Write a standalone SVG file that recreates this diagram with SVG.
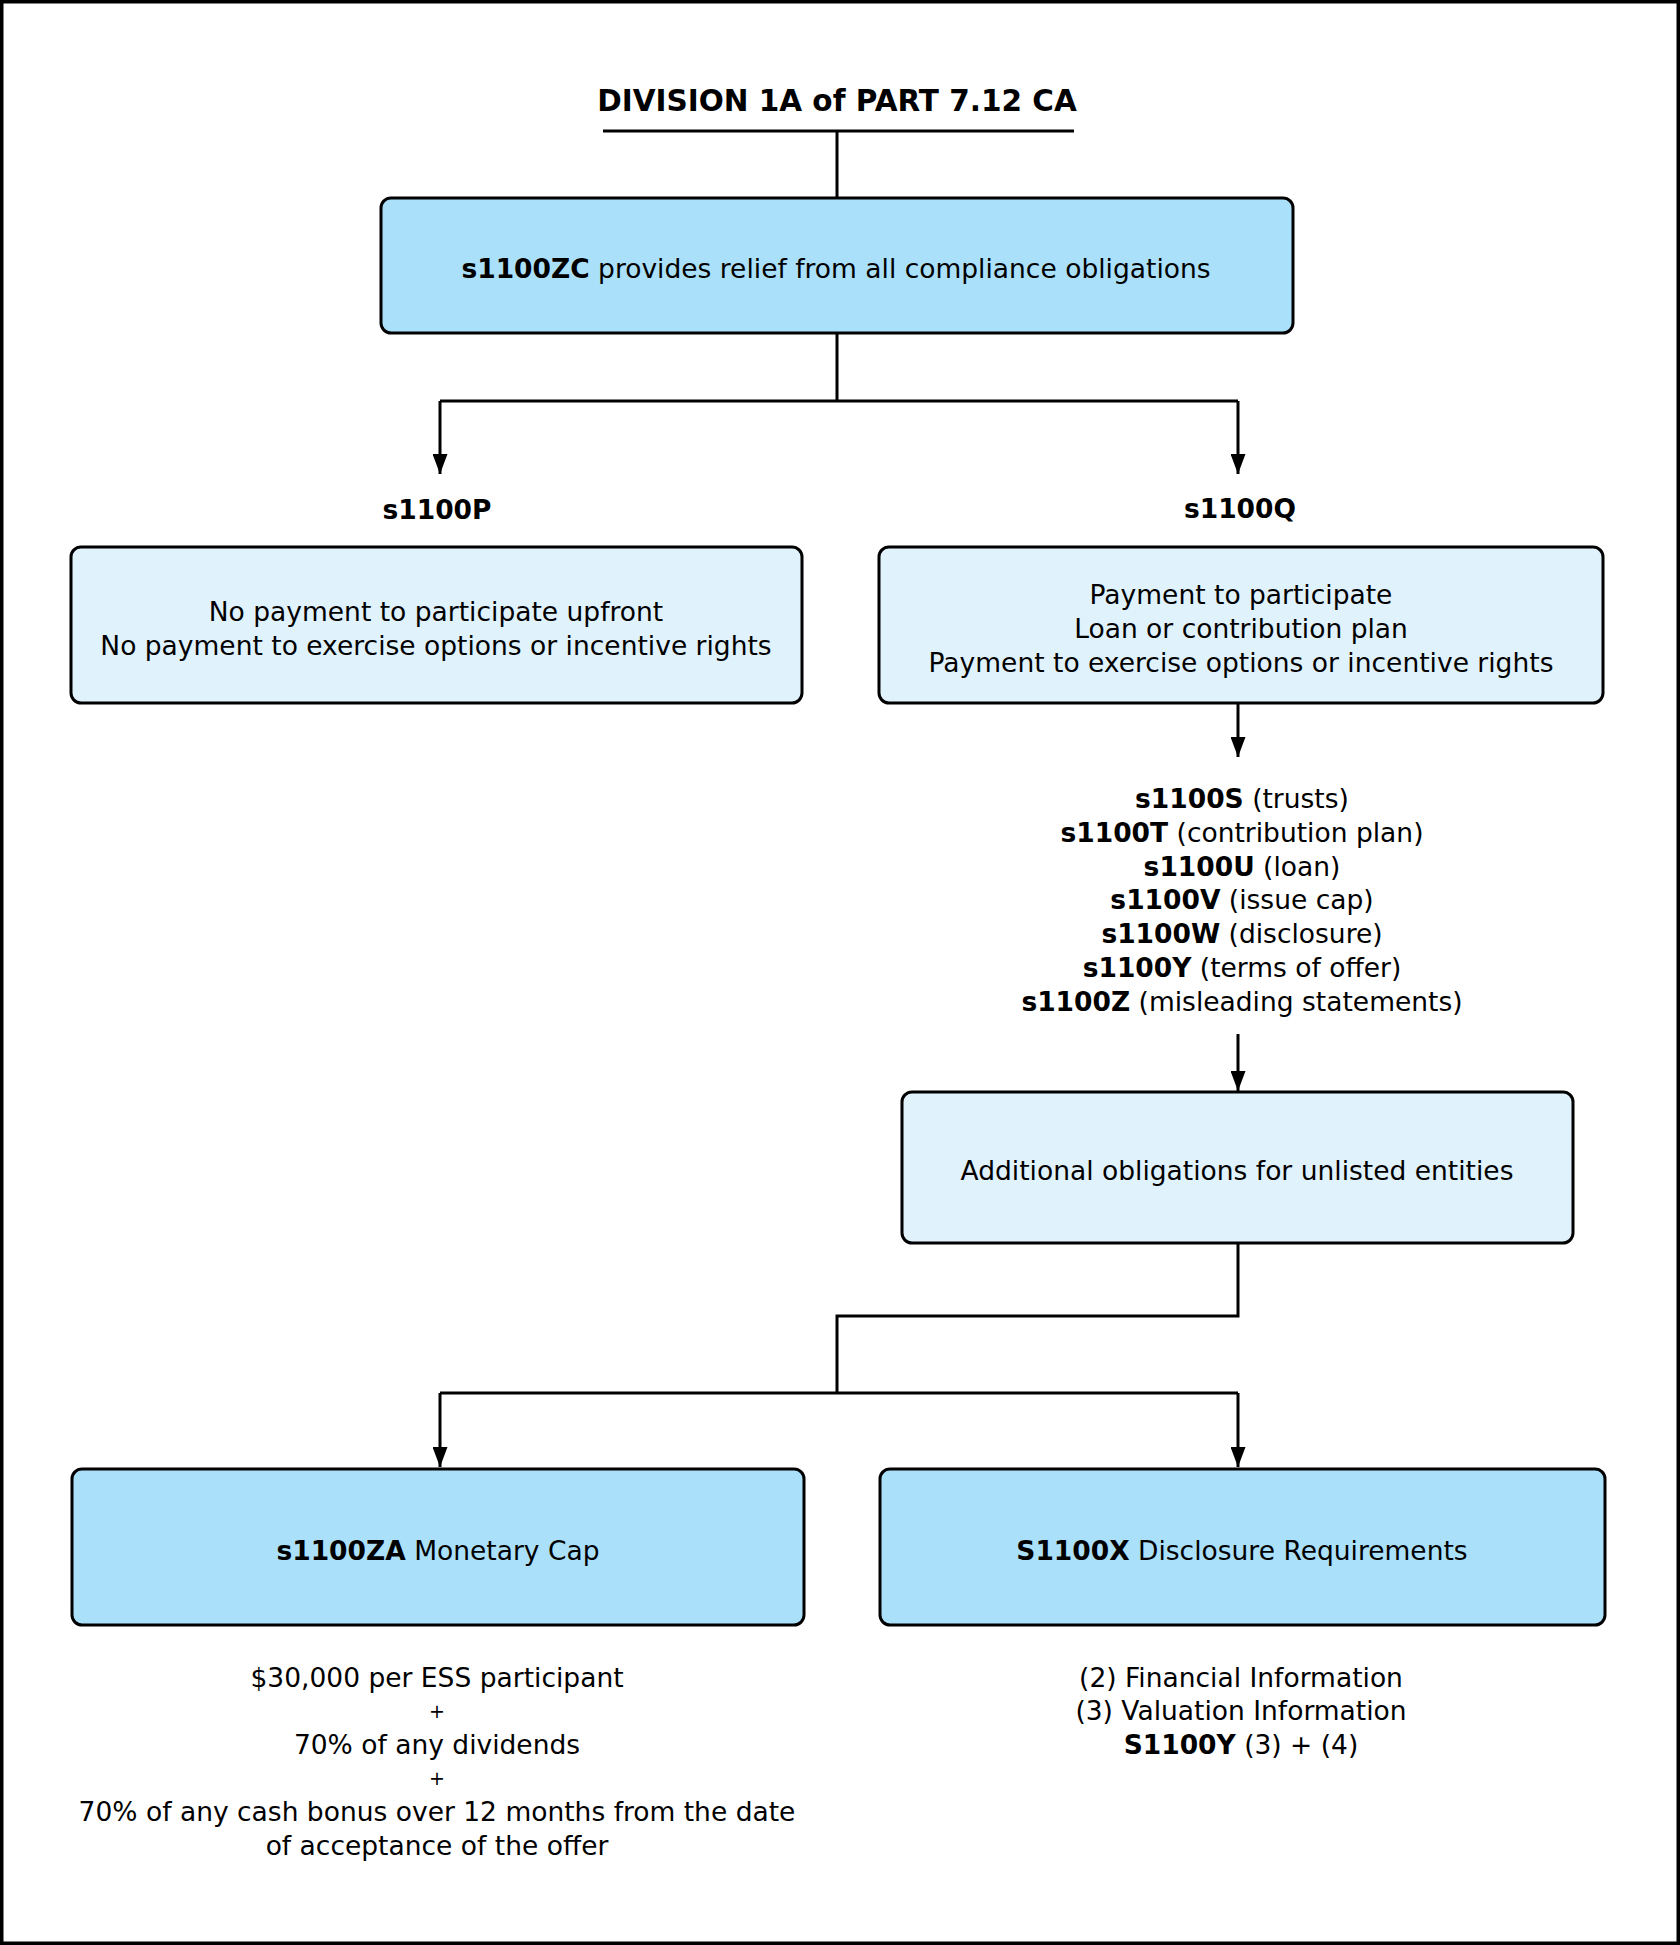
<svg xmlns="http://www.w3.org/2000/svg" width="1680" height="1945" viewBox="0 0 1680 1945">
<style>
text{font-family:"DejaVu Sans","Liberation Sans",sans-serif;font-size:26.5px;fill:#000;text-anchor:middle}
.b{font-weight:bold}
.title{font-size:29.5px;font-weight:bold}
.plus{font-size:19px}
.dark{fill:#abe0fa;stroke:#000;stroke-width:3}
.light{fill:#e0f2fc;stroke:#000;stroke-width:3}
.c{fill:none;stroke:#000;stroke-width:3}
</style>
<defs>
<marker id="ah" viewBox="0 0 20 15" refX="20" refY="7.5" markerWidth="20" markerHeight="15" markerUnits="userSpaceOnUse" orient="auto">
<path d="M0,0 L20,7.5 L0,15 z" fill="#000"/>
</marker>
</defs>
<rect x="0" y="0" width="1680" height="1945" fill="#fff"/>
<rect x="1.75" y="1.75" width="1676.5" height="1941.5" fill="none" stroke="#000" stroke-width="3.5"/>

<g id="title">
<text class="title" x="837" y="111">DIVISION 1A of PART 7.12 CA</text>
<line x1="603" y1="131" x2="1074" y2="131" stroke="#000" stroke-width="3"/>
</g>

<g id="connectors">
<path class="c" d="M837,131 V198"/>
<path class="c" d="M837,333 V401 M440,401 H1238"/>
<path class="c" d="M440,401 V474" marker-end="url(#ah)"/>
<path class="c" d="M1238,401 V474" marker-end="url(#ah)"/>
<path class="c" d="M1238,703 V757" marker-end="url(#ah)"/>
<path class="c" d="M1238,1034 V1091" marker-end="url(#ah)"/>
<path class="c" d="M1238,1243 V1316 H837 V1393 M440,1393 H1238"/>
<path class="c" d="M440,1393 V1467" marker-end="url(#ah)"/>
<path class="c" d="M1238,1393 V1467" marker-end="url(#ah)"/>
</g>

<g id="s1100ZC">
<rect class="dark" x="381" y="198" width="912" height="135" rx="10"/>
<text x="836" y="278"><tspan class="b">s1100ZC</tspan> provides relief from all compliance obligations</text>
</g>

<g id="label-s1100P"><text class="b" x="437" y="519">s1100P</text></g>
<g id="label-s1100Q"><text class="b" x="1240" y="518">s1100Q</text></g>

<g id="s1100P">
<rect class="light" x="71" y="547" width="731" height="156" rx="10"/>
<text x="436" y="621">No payment to participate upfront</text>
<text x="436" y="655">No payment to exercise options or incentive rights</text>
</g>

<g id="s1100Q">
<rect class="light" x="879" y="547" width="724" height="156" rx="10"/>
<text x="1241" y="604">Payment to participate</text>
<text x="1241" y="638">Loan or contribution plan</text>
<text x="1241" y="672">Payment to exercise options or incentive rights</text>
</g>

<g id="obligations-list">
<text x="1242" y="808"><tspan class="b">s1100S</tspan> (trusts)</text>
<text x="1242" y="842"><tspan class="b">s1100T</tspan> (contribution plan)</text>
<text x="1242" y="876"><tspan class="b">s1100U</tspan> (loan)</text>
<text x="1242" y="909"><tspan class="b">s1100V</tspan> (issue cap)</text>
<text x="1242" y="943"><tspan class="b">s1100W</tspan> (disclosure)</text>
<text x="1242" y="977"><tspan class="b">s1100Y</tspan> (terms of offer)</text>
<text x="1242" y="1011"><tspan class="b">s1100Z</tspan> (misleading statements)</text>
</g>

<g id="unlisted">
<rect class="light" x="902" y="1092" width="671" height="151" rx="10"/>
<text x="1237" y="1180">Additional obligations for unlisted entities</text>
</g>

<g id="s1100ZA">
<rect class="dark" x="72" y="1469" width="732" height="156" rx="10"/>
<text x="438" y="1560"><tspan class="b">s1100ZA</tspan> Monetary Cap</text>
</g>

<g id="S1100X">
<rect class="dark" x="880" y="1469" width="725" height="156" rx="10"/>
<text x="1242" y="1560"><tspan class="b">S1100X</tspan> Disclosure Requirements</text>
</g>

<g id="monetary-cap-details">
<text x="437" y="1687">$30,000 per ESS participant</text>
<text class="plus" x="437" y="1718">+</text>
<text x="437" y="1754">70% of any dividends</text>
<text class="plus" x="437" y="1785">+</text>
<text x="437" y="1821">70% of any cash bonus over 12 months from the date</text>
<text x="437" y="1855">of acceptance of the offer</text>
</g>

<g id="disclosure-details">
<text x="1241" y="1687">(2) Financial Information</text>
<text x="1241" y="1720">(3) Valuation Information</text>
<text x="1241" y="1754"><tspan class="b">S1100Y</tspan> (3) + (4)</text>
</g>
</svg>
